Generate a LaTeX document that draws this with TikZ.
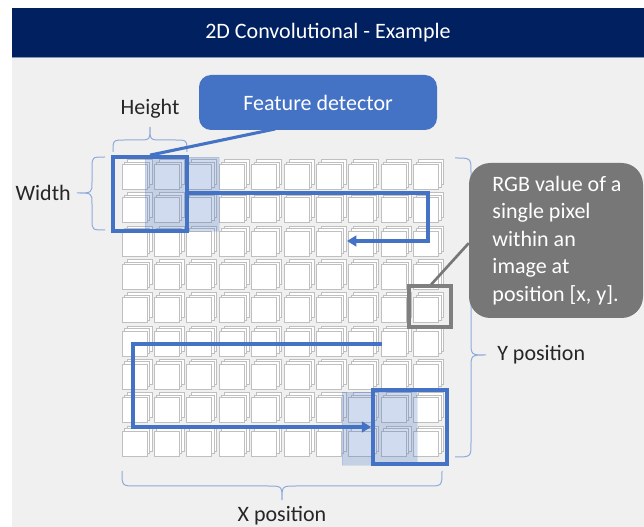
\documentclass[tikz,border=0pt]{standalone}
\usepackage{fontspec}
\setmainfont{Carlito}
\usetikzlibrary{arrows.meta,fit}
\definecolor{navy}{HTML}{002060}
\definecolor{pblue}{HTML}{4472C4}
\definecolor{lblue}{HTML}{8FAADC}
\definecolor{slide}{HTML}{F0F0F0}
\definecolor{cellgray}{HTML}{BFBFBF}
\definecolor{boxgray}{HTML}{7F7F7F}
\definecolor{callgray}{HTML}{777777}
\definecolor{txt}{HTML}{262626}
\definecolor{rulecol}{HTML}{8497B0}
\begin{document}
\begin{tikzpicture}[x=0.75pt,y=-0.75pt,
  lbl/.style={font=\fontsize{16.5}{20.6}\selectfont, text=txt, inner sep=0pt},
  cellsq/.style={draw=cellgray, fill=white, line width=0.7pt},
  brace/.style={draw=lblue, line width=0.75pt},
  arrowline/.style={draw=pblue, line width=2.3pt, -{Triangle[length=7pt,width=8pt]}},
  fbox/.style={draw=pblue, line width=2.8pt, inner sep=0pt},
  shade/.style={fill=pblue, fill opacity=0.25, draw=pblue, draw opacity=0.15, inner sep=0pt}
]
\useasboundingbox (0,0) rectangle (644,527);
% background
\fill[white] (0,0) rectangle (644,527);
\fill[slide] (12,57) rectangle (644,527);
\node[fit={(12,8) (644,57)}, fill=navy, inner sep=0pt] (titlebar) {};
\fill[rulecol] (12,57) rectangle (644,58.5);
\node[lbl, text=white] (title) at (titlebar.center) {2D Convolutional - Example};

% grid of pixels
\foreach \i in {0,...,9}{
  \foreach \j in {0,...,8}{
    \pgfmathsetmacro{\xx}{122+32.4*\i}
    \pgfmathsetmacro{\yy}{189.6+33.3*\j}
    \draw[cellsq] (\xx+5,\yy-5) rectangle (\xx+30,\yy-30);
    \draw[cellsq] (\xx+2.5,\yy-2.5) rectangle (\xx+27.5,\yy-27.5);
    \draw[cellsq] (\xx,\yy) rectangle (\xx+25,\yy-25);
  }
}

% shaded positions
\node[shade, fit={(145,157) (219,231)}] (shadeA) {};
\node[shade, fit={(342,392) (417,465)}] (shadeB) {};

% feature boxes
\node[fbox, fit={(113,157) (187,231)}] (boxA) {};
\node[fbox, fit={(373,390) (447,464)}] (boxB) {};

% single pixel box
\node[draw=boxgray, line width=2.3pt, inner sep=0pt, fit={(409,286) (451,327)}] (pxbox) {};

% scanning paths
\coordinate (t1) at (428,193);
\coordinate (t2) at (428,241);
\coordinate (t3) at (347,241);
\draw[arrowline] (boxA.east |- t1) -- (t1) -- (t2) -- (t3);
\coordinate (b0) at (382,344);
\coordinate (b1) at (133,344);
\coordinate (b2) at (133,427);
\draw[arrowline] (b0) -- (b1) -- (b2) -- (boxB.west |- b2);

% braces
\draw[brace] (113,152) .. controls (113,140) .. (125,140) -- (138,140) .. controls (150,140) .. (150,127)
  .. controls (150,140) .. (162,140) -- (175,140) .. controls (187,140) .. (187,152);
\draw[brace] (105,157) .. controls (92,157) .. (92,168) -- (92,182) .. controls (92,193) .. (77,193)
  .. controls (92,193) .. (92,204) -- (92,219) .. controls (92,230) .. (105,230);
\draw[brace] (455,158) .. controls (471,158) .. (471,172) -- (471,341) .. controls (471,355) .. (486,355)
  .. controls (471,355) .. (471,369) -- (471,443) .. controls (471,457) .. (455,457);
\draw[brace] (122,471) .. controls (122,486) .. (136,486) -- (268,486) .. controls (282,486) .. (282,500)
  .. controls (282,486) .. (296,486) -- (428,486) .. controls (442,486) .. (442,471);

% labels
\node[lbl] (height) at (150,109) {Height};
\node[lbl, anchor=east] (width) at (71,193) {Width};
\node[lbl, anchor=west] (ypos) at (497,355) {Y position};
\node[lbl] (xpos) at (282,516) {X position};

% Feature detector callout
\node[fit={(199,75) (437,130)}, fill=pblue, rounded corners=9pt, inner sep=0pt] (fdcall) {};
\node[lbl, text=white] (fdtext) at (fdcall.center) {Feature detector};
\coordinate (fdptr) at (275,129);
\draw[draw=pblue, line width=2.3pt] (fdptr) -- (boxA.north);

% RGB callout
\node[fit={(469,163) (643,318)}, fill=callgray, rounded corners=16pt, inner sep=0pt] (rgbcall) {};
\node[lbl, text=white, align=left] (rgbtext) at ([xshift=0.75pt]rgbcall.center)
  {RGB value of a\\single pixel\\within an\\image at\\position [x, y].};
\draw[draw=callgray, line width=2pt] ([yshift=-2pt]rgbcall.west) -- ([xshift=-16pt]pxbox.north east);
\end{tikzpicture}
\end{document}
